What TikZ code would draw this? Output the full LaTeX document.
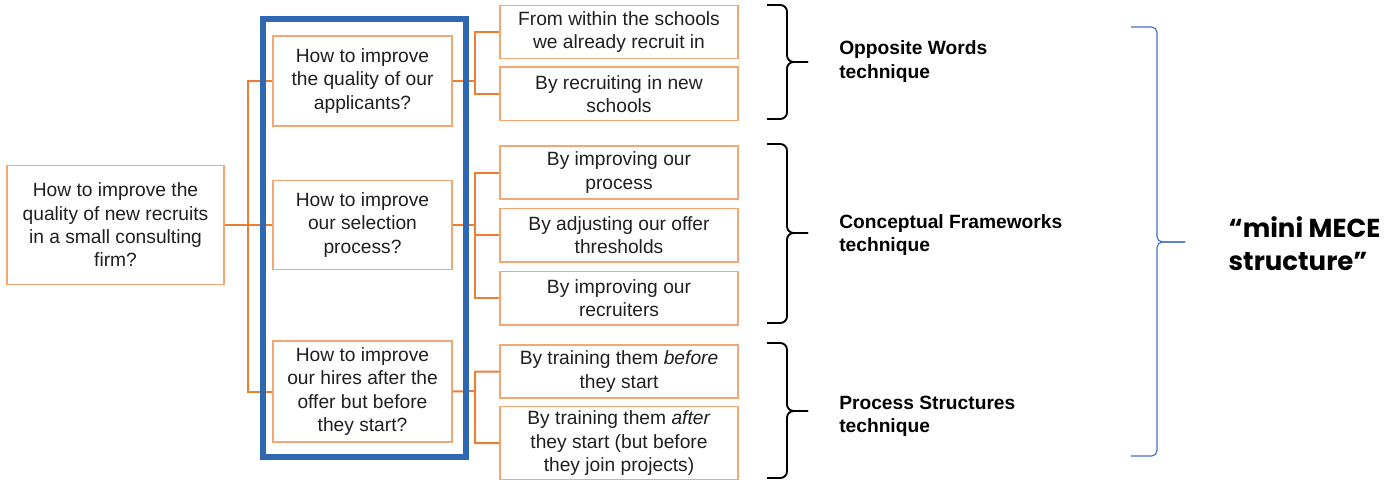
\documentclass[tikz,border=0pt]{standalone}
\usepackage{fontspec}
\setmainfont{Liberation Sans}
\newfontfamily\gothicfont{Poppins}
\usetikzlibrary{positioning}
\definecolor{linkorange}{HTML}{ED7D31}
\definecolor{boxorange}{HTML}{F4A772}
\definecolor{frameblue}{HTML}{2E67B2}
\definecolor{braceblue}{HTML}{4472C4}
\definecolor{inkgray}{HTML}{1F1F1F}
\tikzset{
  qbox/.style={draw=boxorange, line width=1.1pt, align=center, inner sep=2pt,
    font=\fontsize{14.4}{17.5}\selectfont, text=inkgray},
  leaf/.style={qbox, minimum width=178.5pt, minimum height=40pt},
  link/.style={draw=linkorange, line width=1.5pt},
  hilite/.style={draw=frameblue, line width=4.5pt},
  brc/.style={draw=black, line width=1.4pt, rounded corners=5pt},
  bluebrc/.style={draw=braceblue, line width=0.9pt, rounded corners=4pt},
  tech/.style={anchor=west, align=left, inner sep=0pt, font=\fontsize{14.4}{17.5}\selectfont\bfseries},
  mece/.style={anchor=west, align=left, font=\gothicfont\fontsize{19.5}{24.75}\selectfont\bfseries},
}
% curly brace opening left: [style]{x end}{x spine}{x tip}{y top}{y tip}{y bottom}
\newcommand{\techbrace}[7][brc]{%
  \draw[#1] (#2,#5) -- (#3,#5) -- (#3,#6) -- (#4,#6);
  \draw[#1] (#2,#7) -- (#3,#7) -- (#3,#6) -- (#4,#6);
}

\begin{document}
\begin{tikzpicture}[x=0.75pt,y=-0.75pt]
  \useasboundingbox (0,0) rectangle (1398,487);
  % root question
  \node[qbox, minimum width=162.75pt, minimum height=89.25pt] (root) at (115.5,225)
    {How to improve the\\quality of new recruits\\in a small consulting\\firm?};
  % first level
  \node[qbox, minimum width=134.25pt, minimum height=67.5pt] (qA) at (362.5,81)
    {How to improve\\the quality of our\\applicants?};
  \node[qbox, minimum width=134.25pt, minimum height=66.75pt] (qB) at (362.5,225)
    {How to improve\\our selection\\process?};
  \node[qbox, minimum width=134.25pt, minimum height=75.75pt] (qC) at (362.5,391.5)
    {How to improve\\our hires after the\\offer but before\\they start?};
  % answers
  \node[leaf] (l1) at (619,32) {From within the schools\\we already recruit in};
  \node[leaf, below=5.25pt of l1] (l2) {By recruiting in new\\schools};
  \node[leaf] (l3) at (619,172.5) {By improving our\\process};
  \node[leaf, below=6pt of l3] (l4) {By adjusting our offer\\thresholds};
  \node[leaf, below=6pt of l4] (l5) {By improving our\\recruiters};
  \node[leaf] (l6) at (619,371.5) {By training them \textit{before}\\they start};
  \node[leaf, minimum height=54.75pt, below=5.25pt of l6] (l7)
    {By training them \textit{after}\\they start (but before\\they join projects)};
  % tree links
  \coordinate (j0) at (248,225);
  \coordinate (jA) at (475,81);
  \coordinate (jB) at (475,225);
  \coordinate (jC) at (475,391);
  \draw[link] (root.east) -- (j0) |- (qA.west) (j0) |- (qC.west) (j0) -- (qB.west);
  \draw[link] (qA.east) -- (jA) |- (l1.west) (jA) |- (l2.west);
  \draw[link] (qB.east) -- (jB) |- (l3.west) (jB) |- (l4.west) (jB) |- (l5.west);
  \draw[link] (qC.east) -- (jC) |- (l6.west) (jC) |- (l7.west);
  % blue frame round the first level
  \draw[hilite] (263,19) rectangle (466,457);
  % techniques
  \techbrace{767}{787}{808}{5}{62}{119}
  \techbrace{767}{787}{808}{144}{233}{323}
  \techbrace{767}{787}{808}{343}{411}{478}
  \node[tech] (t1) at (839,61.5) {Opposite Words\\technique};
  \node[tech] (t2) at (839,235) {Conceptual Frameworks\\technique};
  \node[tech] (t3) at (839,416) {Process Structures\\technique};
  % whole structure
  \techbrace[bluebrc]{1131}{1157}{1185}{27}{242}{456}
  \node[mece] (mece) at (1224,243.5) {“mini MECE\\structure”};
\end{tikzpicture}
\end{document}
